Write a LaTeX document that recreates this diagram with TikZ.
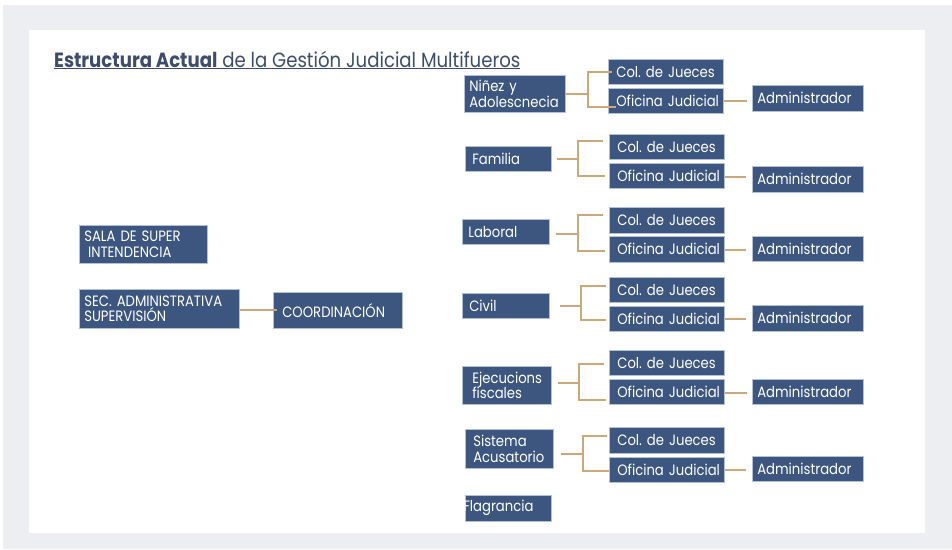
\documentclass[tikz,border=0pt]{standalone}
\usepackage{fontspec}
\setmainfont{Poppins}[FakeStretch=0.88]
\usetikzlibrary{positioning}
\definecolor{boxBlue}{HTML}{3D5680}
\definecolor{boxEdge}{HTML}{B4C1D4}
\definecolor{linkTan}{HTML}{C9A87C}
\definecolor{titleBlue}{HTML}{3E4D6B}
\definecolor{slideGray}{HTML}{EDEEF2}
\frenchspacing
\newcommand{\boxfont}{\fontsize{15}{15.5}\selectfont}
\tikzstyle{recNode} = [rectangle, draw=boxEdge, line width=0.6pt, fill=boxBlue, text=white, font=\boxfont, align=left, anchor=north west, inner ysep=0pt, minimum height=25pt, execute at begin node={\hyphenpenalty=10000\exhyphenpenalty=10000}]
\tikzstyle{juezNode} = [recNode, inner xsep=8pt, text width=99pt]
\tikzstyle{admNode} = [recNode, inner xsep=5pt, text width=101pt, minimum height=26pt]
\tikzstyle{link} = [line width=2pt, draw=linkTan]

\begin{document}
\begin{tikzpicture}[x=1pt, y=-1pt]
    \useasboundingbox (0,0) rectangle (952,549);
    \fill[slideGray] (3,5) rectangle (952,549);
    \fill[white] (29,30) rectangle (925,533);

    \node (title) [anchor=base west, text=titleBlue, font=\fontsize{20.6}{20.6}\selectfont, inner sep=0pt] at (54,67) {\underline{\textbf{Estructura Actual} de la Gestión Judicial Multifueros}};

    % left side
    \node (sala) [recNode, inner xsep=5pt, text width=118pt, minimum height=38pt] at (79,225) {SALA DE SUPER\\\hspace*{0.25em}INTENDENCIA};
    \node (sec) [recNode, inner xsep=5pt, text width=150pt, minimum height=39pt] at (79,289) {SEC. ADMINISTRATIVA\\SUPERVISIÓN};
    \node (coo) [recNode, inner xsep=9pt, text width=111pt, minimum height=36pt] at (273,292) {COORDINACIÓN};

    % fueros
    \node (nin) [recNode, inner xsep=5pt, text width=91pt, minimum height=37pt] at (464,75) {Niñez y\\Adolescnecia};
    \node (fam) [recNode, inner xsep=7pt, text width=72pt] at (465,146) {Familia};
    \node (lab) [recNode, inner xsep=6pt, text width=75pt] at (462,219) {Laboral};
    \node (civ) [recNode, inner xsep=7pt, text width=73pt] at (462,293) {Civil};
    \node (eje) [recNode, inner xsep=10pt, text width=69pt, minimum height=38pt] at (462,366) {Ejecucions\\fiscales};
    \node (sis) [recNode, inner xsep=8pt, text width=72pt, minimum height=39pt] at (465,429) {Sistema\\Acusatorio};
    \node (fla) [recNode, inner xsep=0pt, text width=86pt, minimum height=26pt] at (465,495) {\hspace*{-2pt}Flagrancia};

    % colegios y oficinas
    \node (col1) [juezNode] at (608,59) {\mbox{Col. de Jueces}};
    \node (ofi1) [juezNode] at (608,88) {\mbox{Oficina Judicial}};
    \node (col2) [juezNode] at (609,134) {\mbox{Col. de Jueces}};
    \node (ofi2) [juezNode] at (609,163) {\mbox{Oficina Judicial}};
    \node (col3) [juezNode, minimum height=26pt] at (609,207) {\mbox{Col. de Jueces}};
    \node (ofi3) [juezNode, minimum height=26pt] at (609,236) {\mbox{Oficina Judicial}};
    \node (col4) [juezNode] at (609,277) {\mbox{Col. de Jueces}};
    \node (ofi4) [juezNode] at (609,306) {\mbox{Oficina Judicial}};
    \node (col5) [juezNode] at (609,350) {\mbox{Col. de Jueces}};
    \node (ofi5) [juezNode] at (609,379) {\mbox{Oficina Judicial}};
    \node (col6) [juezNode, minimum height=26pt] at (609,427) {\mbox{Col. de Jueces}};
    \node (ofi6) [juezNode] at (609,457) {\mbox{Oficina Judicial}};

    % administradores
    \node (adm1) [admNode] at (752,85) {Administrador};
    \node (adm2) [admNode] at (752,166) {Administrador};
    \node (adm3) [admNode, minimum height=25pt] at (752,236) {Administrador};
    \node (adm4) [admNode] at (752,305) {Administrador};
    \node (adm5) [admNode, minimum height=25pt] at (752,379) {Administrador};
    \node (adm6) [admNode, minimum height=25pt] at (752,456) {Administrador};

    % brackets
    \coordinate (ninS) at ([xshift=22pt]nin.east);
    \coordinate (famS) at ([xshift=26pt]fam.east);
    \coordinate (labS) at ([xshift=28pt,yshift=-2.5pt]lab.east);
    \coordinate (civS) at ([xshift=31pt]civ.east);
    \coordinate (ejeS) at ([xshift=27pt,yshift=2pt]eje.east);
    \coordinate (sisS) at ([xshift=29pt,yshift=-5.5pt]sis.east);

    \draw [link] (nin.east) -- (ninS);
    \draw [link] ([xshift=4pt]col1.west) -| (ninS) |- ([xshift=8pt,yshift=-6.5pt]ofi1.west);
    \draw [link, shorten <=5pt] (fam.east) -- (famS);
    \draw [link] ([xshift=-6pt,yshift=5.5pt]col2.west) -| (famS) |- ([xshift=-4pt]ofi2.west);
    \draw [link, shorten <=6pt] ([yshift=-2.5pt]lab.east) -- (labS);
    \draw [link] ([xshift=-6pt,yshift=5pt]col3.west) -| (labS) |- ([xshift=-4pt,yshift=-2pt]ofi3.west);
    \draw [link, shorten <=10pt] (civ.east) -- (civS);
    \draw [link] ([xshift=-3pt,yshift=3.5pt]col4.west) -| (civS) |- ([xshift=-3pt,yshift=-1.5pt]ofi4.west);
    \draw [link, shorten <=6pt] ([yshift=2pt]eje.east) -- (ejeS);
    \draw [link] ([xshift=-5pt,yshift=-1.5pt]col5.west) -| (ejeS) |- ([xshift=-3pt,yshift=-8.5pt]ofi5.west);
    \draw [link, shorten <=7pt] ([yshift=-5.5pt]sis.east) -- (sisS);
    \draw [link] ([xshift=-2pt,yshift=4pt]col6.west) -| (sisS) |- ([yshift=-1.5pt]ofi6.west);

    % oficina - administrador
    \draw [link, shorten >=5pt] (ofi1.east) -- (ofi1.east -| adm1.west);
    \draw [link, shorten >=6pt] ([yshift=-1.5pt]ofi2.east) -- ([yshift=-1.5pt]ofi2.east -| adm2.west);
    \draw [link, shorten >=6pt] ([yshift=-1pt]ofi3.east) -- ([yshift=-1pt]ofi3.east -| adm3.west);
    \draw [link, shorten >=6pt] (ofi4.east) -- (ofi4.east -| adm4.west);
    \draw [link, shorten >=5pt] ([yshift=-1.5pt]ofi5.east) -- ([yshift=-1.5pt]ofi5.east -| adm5.west);
    \draw [link, shorten >=6pt] (ofi6.east) -- (ofi6.east -| adm6.west);
    \draw [link, shorten >=-4pt] ([yshift=-1.5pt]sec.east) -- ([yshift=-1.5pt]sec.east -| coo.west);
\end{tikzpicture}
\end{document}
